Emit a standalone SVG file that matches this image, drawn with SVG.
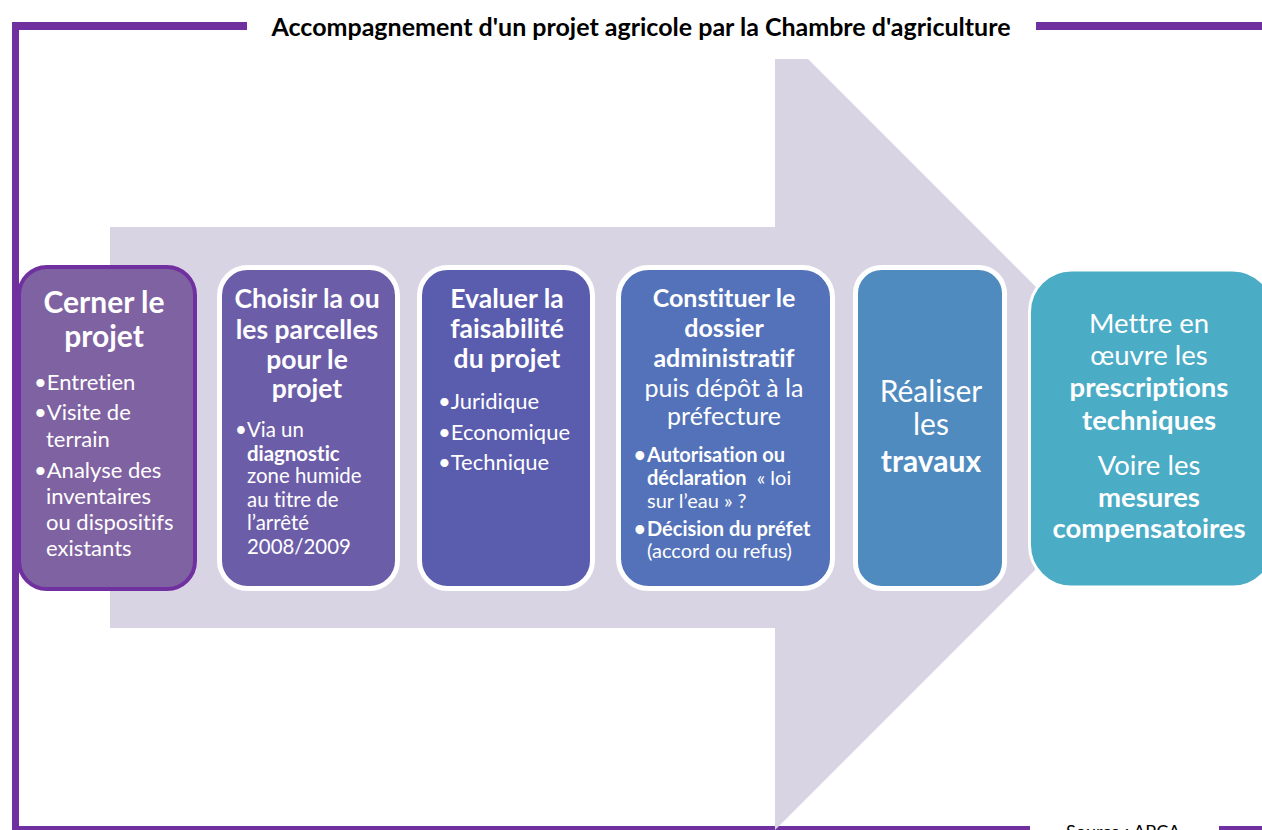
<svg xmlns="http://www.w3.org/2000/svg" width="1262" height="830" viewBox="0 0 1262 830">
<style>
text{font-family:Lato,"Liberation Sans",sans-serif;fill:#fff;font-variant-ligatures:none}
.b{font-weight:700}
.t{font-weight:700;fill:#000;font-size:25px}
.h1{font-size:30px;font-weight:700}
.h2{font-size:26.5px;font-weight:700}
.h4{font-size:25px;font-weight:700}
.l1{font-size:22px}
.l2{font-size:20.4px}
.l4{font-size:20px}
.h5{font-size:30px}
.h6{font-size:27.5px}
.frame{fill:#7030A0}
</style>
<rect width="1262" height="830" fill="#fff"/>
<g id="frame">
<rect class="frame" x="12" y="22" width="235" height="8"/>
<rect class="frame" x="1036" y="22" width="226" height="8"/>
<rect class="frame" x="12" y="22" width="7" height="808"/>
<rect class="frame" x="12" y="826" width="1018" height="4"/>
<rect class="frame" x="1219" y="826" width="43" height="4"/>
<text class="t" x="641" y="36" text-anchor="middle">Accompagnement d'un projet agricole par la Chambre d'agriculture</text>
<text x="1066" y="838" style="fill:#000;font-size:18px">Source : APCA</text>
</g>
<g id="arrow">
<polygon points="110,227 775,227 775,59 808,59 1177,428 775,830 775,628 110,628" fill="#D8D4E3"/>
</g>
<g id="n1">
<rect x="19" y="267" width="176" height="322" rx="28" fill="#7F62A1" stroke="#7030A0" stroke-width="4"/>
<text class="h1" text-anchor="middle"><tspan x="104" y="313">Cerner le</tspan><tspan x="104" y="347">projet</tspan></text>
<text class="l1"><tspan x="34" y="390">•Entretien</tspan><tspan x="34" y="420">•Visite de</tspan><tspan x="46" y="447">terrain</tspan><tspan x="34" y="478">•Analyse des</tspan><tspan x="46" y="504">inventaires</tspan><tspan x="46" y="530">ou dispositifs</tspan><tspan x="46" y="556">existants</tspan></text>
</g>
<g id="n2">
<rect x="219.5" y="267.5" width="178" height="321" rx="28" fill="#6C5DA8" stroke="#fff" stroke-width="5"/>
<text class="h2" text-anchor="middle"><tspan x="307" y="308">Choisir la ou</tspan><tspan x="307" y="339">les parcelles</tspan><tspan x="307" y="369">pour le</tspan><tspan x="307" y="398">projet</tspan></text>
<text class="l2"><tspan x="235" y="437">•</tspan><tspan x="247" y="437">Via un</tspan><tspan x="247" y="461" class="b">diagnostic</tspan><tspan x="247" y="483">zone humide</tspan><tspan x="247" y="507">au titre de</tspan><tspan x="247" y="530">l’arrêté</tspan><tspan x="247" y="554">2008/2009</tspan></text>
</g>
<g id="n3">
<rect x="419.5" y="267.5" width="173" height="321" rx="28" fill="#5A5CAE" stroke="#fff" stroke-width="5"/>
<text class="h2" text-anchor="middle"><tspan x="507" y="308">Evaluer la</tspan><tspan x="507" y="338">faisabilité</tspan><tspan x="507" y="368">du projet</tspan></text>
<text class="l1"><tspan x="438" y="409">•Juridique</tspan><tspan x="438" y="440">•Economique</tspan><tspan x="438" y="470">•Technique</tspan></text>
</g>
<g id="n4">
<rect x="618.5" y="267.5" width="214" height="321" rx="30" fill="#5372B9" stroke="#fff" stroke-width="5"/>
<text class="h4" text-anchor="middle"><tspan x="724" y="307">Constituer le</tspan><tspan x="724" y="337">dossier</tspan><tspan x="724" y="367">administratif</tspan><tspan x="724" y="397" style="font-weight:400">puis dépôt à la</tspan><tspan x="724" y="425" style="font-weight:400">préfecture</tspan></text>
<text class="l4"><tspan x="634" y="462" class="b">•</tspan><tspan x="647" y="462" class="b">Autorisation ou</tspan><tspan x="647" y="485"><tspan class="b">déclaration</tspan> &#160;« loi</tspan><tspan x="647" y="508">sur l’eau » ?</tspan><tspan x="634" y="536" class="b">•</tspan><tspan x="647" y="536" class="b">Décision du préfet</tspan><tspan x="647" y="558">(accord ou refus)</tspan></text>
</g>
<g id="n5">
<rect x="855.5" y="267.5" width="149" height="321" rx="26" fill="#4F8BBF" stroke="#fff" stroke-width="5"/>
<text class="h5" text-anchor="middle"><tspan x="931" y="402">Réaliser</tspan><tspan x="931" y="435">les</tspan><tspan x="931" y="472" class="b">travaux</tspan></text>
</g>
<g id="n6">
<rect x="1029.5" y="270" width="245" height="317" rx="42" fill="#4BACC6" stroke="#fff" stroke-width="3"/>
<text class="h6" text-anchor="middle"><tspan x="1149" y="333">Mettre en</tspan><tspan x="1149" y="365">œuvre les</tspan><tspan x="1149" y="397" class="b">prescriptions</tspan><tspan x="1149" y="430" class="b">techniques</tspan><tspan x="1149" y="475">Voire les</tspan><tspan x="1149" y="507" class="b">mesures</tspan><tspan x="1149" y="538" class="b">compensatoires</tspan></text>
</g>
</svg>
